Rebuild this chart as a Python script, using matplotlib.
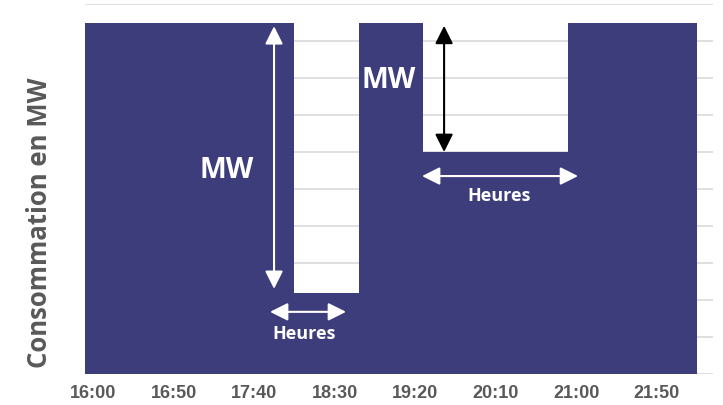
import matplotlib
matplotlib.use("Agg")
import matplotlib.pyplot as plt

# créneaux de 10 minutes
heures = ['16:00', '16:10', '16:20', '16:30', '16:40', '16:50', '17:00', '17:10',
          '17:20', '17:30', '17:40', '17:50', '18:00', '18:10', '18:20', '18:30',
          '18:40', '18:50', '19:00', '19:10', '19:20', '19:30', '19:40', '19:50',
          '20:00', '20:10', '20:20', '20:30', '20:40', '20:50', '21:00', '21:10',
          '21:20', '21:30', '21:40', '21:50', '22:00', '22:10']
conso = [9.5, 9.5, 9.5, 9.5, 9.5, 9.5, 9.5, 9.5, 9.5, 9.5, 9.5, 9.5, 9.5,
         2.2, 2.2, 2.2, 2.2,
         9.5, 9.5, 9.5, 9.5,
         6.0, 6.0, 6.0, 6.0, 6.0, 6.0, 6.0, 6.0, 6.0,
         9.5, 9.5, 9.5, 9.5, 9.5, 9.5, 9.5, 9.5]
pas_labels = 5

couleur = '#3e3d7b'
gris = '#595959'
police = 'Open Sans'

fig = plt.figure(figsize=(7.23, 4.06), dpi=100)
ax = fig.add_axes([85 / 723, 31 / 406, 628 / 723, 370 / 406])

x = list(range(len(conso)))
ax.bar(x, conso, width=1.0, color=couleur, linewidth=0, zorder=2)

ax.set_xlim(-0.5, len(conso) + 0.5)
ax.set_ylim(0, 10)
ax.set_yticks(range(0, 11))
ax.yaxis.grid(True, color='#d9d9d9', linewidth=1.2, zorder=0)
ax.set_axisbelow(True)
ax.tick_params(axis='y', left=False, labelleft=False)
ax.set_xticks(x[::pas_labels])
ax.set_xticklabels(heures[::pas_labels], fontfamily='Liberation Sans',
                   fontweight='bold', fontsize=13, color=gris)
ax.tick_params(axis='x', length=0, pad=7)
for s in ax.spines.values():
    s.set_visible(False)

fig.text(40 / 723, 1 - 223 / 406, 'Consommation en MW', rotation=90,
         ha='center', va='center', fontfamily=police, fontweight='bold',
         fontsize=18.5, color=gris)


def fleche(x0, y0, x1, y1, c):
    ax.annotate('', xy=(x1, y1), xytext=(x0, y0),
                arrowprops=dict(arrowstyle='<|-|>,head_length=0.9,head_width=0.45',
                                mutation_scale=12, lw=1.5, color=c,
                                shrinkA=0, shrinkB=0), zorder=5)


# première baisse
fleche(11.24, 9.4, 11.24, 2.3, 'white')
fleche(10.99, 1.68, 15.71, 1.68, 'white')
ax.text(8.32, 5.54, 'MW', color='white', fontfamily=police, fontweight='bold',
        fontsize=20.5, ha='center', va='center', zorder=5)
ax.text(13.1, 1.11, 'Heures', color='white', fontfamily=police, fontweight='bold',
        fontsize=13, ha='center', va='center', zorder=5)

# deuxième baisse
fleche(21.8, 9.41, 21.8, 6.0, 'black')
fleche(20.43, 5.35, 30.12, 5.35, 'white')
ax.text(18.38, 7.97, 'MW', color='white', fontfamily=police, fontweight='bold',
        fontsize=20.5, ha='center', va='center', zorder=5)
ax.text(25.21, 4.84, 'Heures', color='white', fontfamily=police, fontweight='bold',
        fontsize=13, ha='center', va='center', zorder=5)

fig.savefig('out.png', dpi=100)
